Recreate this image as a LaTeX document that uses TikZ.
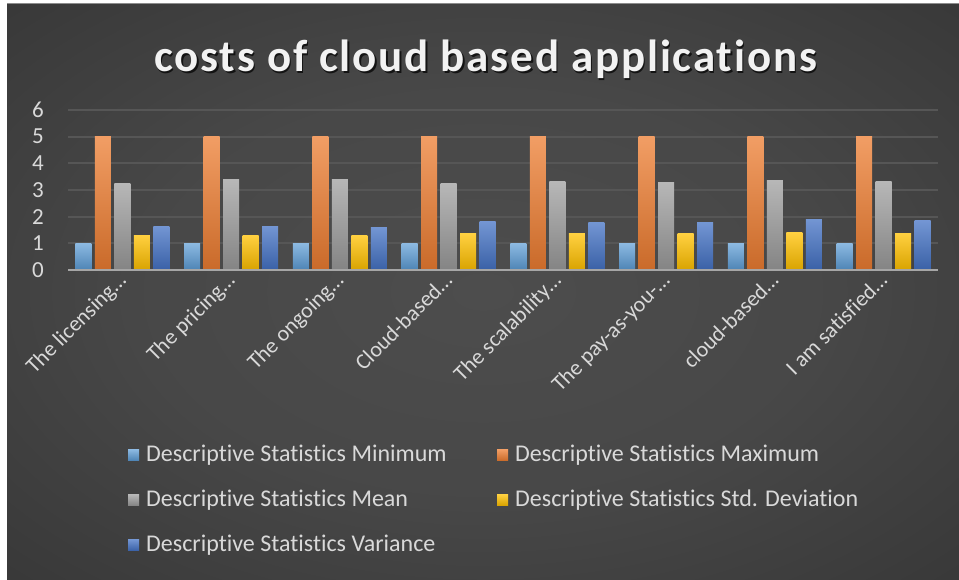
\documentclass[tikz,border=0pt]{standalone}
\usepackage{fontspec}
\setmainfont{Carlito}[Ligatures=NoCommon]
\newfontfamily\titlefont[LetterSpace=4,Ligatures=NoCommon]{Carlito}

\definecolor{bgmid}{HTML}{4D4D4D}
\definecolor{bgdark}{HTML}{282828}
\definecolor{gridgrey}{HTML}{565656}
\definecolor{axisgrey}{HTML}{A6A6A6}
\definecolor{labelgrey}{HTML}{D9D9D9}
\definecolor{minblue}{HTML}{5B9BD5}
\definecolor{maxorange}{HTML}{ED7D31}
\definecolor{meangrey}{HTML}{A5A5A5}
\definecolor{sdyellow}{HTML}{FFC000}
\definecolor{varblue}{HTML}{4472C4}

\pgfdeclareradialshading{chartbg}{\pgfpoint{0bp}{0bp}}{color(0bp)=(bgmid); color(18bp)=(bgmid!85!bgdark); color(55bp)=(bgdark); color(75bp)=(bgdark)}

\tikzset{
  ticklabel/.style={text=labelgrey, font=\fontsize{23}{23}\selectfont, anchor=east, inner sep=0pt},
  catlabel/.style={text=labelgrey, font=\fontsize{22}{22}\selectfont, rotate=45, anchor=base east, inner sep=0pt},
  legendtext/.style={text=labelgrey, font=\fontsize{24}{24}\selectfont, anchor=west, inner sep=0pt},
  minbar/.style={top color=minblue!70!white, bottom color=minblue!85!black},
  maxbar/.style={top color=maxorange!75!white, bottom color=maxorange!85!black},
  meanbar/.style={top color=meangrey!80!white, bottom color=meangrey!80!black},
  sdbar/.style={top color=sdyellow!75!white, bottom color=sdyellow!85!black},
  varbar/.style={top color=varblue!75!white, bottom color=varblue!85!black},
}

% one bar: slot (0..4), value, style
\newcommand{\chartbar}[3]{%
  \shade[#3] ({\gx+(#1-2)*19.5-8},0) rectangle ({\gx+(#1-2)*19.5+8},#2);%
}

\begin{document}
\begin{tikzpicture}[x=1pt,y=1pt]
\useasboundingbox (0,0) rectangle (959,579);

% Page and chart area
\fill[white] (0,0) rectangle (959,579);
\shade[shading=chartbg] (7,0) rectangle (959,575);
\draw[line width=1pt, black!45] (7,575) -- (959,575);

% Title
\node[text=black, opacity=0.7, font=\titlefont\bfseries\fontsize{45}{45}\selectfont, anchor=base] (title-shadow) at (487,505.5) {costs of cloud based applications};
\node[text=white!95!black, font=\titlefont\bfseries\fontsize{45}{45}\selectfont, anchor=base] (title) at (485.5,507) {costs of cloud based applications};

\begin{scope}[shift={(68,309)}, y=26.667pt]

  % Gridlines and value labels
  \foreach \v in {1,...,6}
    \draw[line width=1.8pt, gridgrey] (0,\v) -- (870,\v);
  \foreach \v in {0,...,6}
    \node[ticklabel] (tick-\v) at (-24,\v) {\v};

  % Bars
  \foreach \mean/\sd/\var/\lab [count=\i from 0] in {
      3.25/1.30/1.64/{The licensing…},
      3.38/1.30/1.64/{The pricing…},
      3.41/1.28/1.59/{The ongoing…},
      3.24/1.35/1.80/{Cloud-based…},
      3.31/1.35/1.78/{The scalability…},
      3.29/1.35/1.78/{The pay-as-you-…},
      3.36/1.39/1.90/{cloud-based…},
      3.31/1.37/1.84/{I am satisfied…}} {
    \pgfmathsetmacro{\gx}{108.75*(\i+0.5)}
    \chartbar{0}{1}{minbar}
    \chartbar{1}{5}{maxbar}
    \chartbar{2}{\mean}{meanbar}
    \chartbar{3}{\sd}{sdbar}
    \chartbar{4}{\var}{varbar}
    \node[catlabel] (cat-\i) at ({\gx+5},-0.45) {\lab};
  }

  % Category axis
  \draw[line width=2.4pt, axisgrey] (0,0) -- (870,0);
\end{scope}

% Legend
\foreach \name/\sty/\lx/\ly [count=\j] in {
    Minimum/minbar/128/124,
    Maximum/maxbar/497/124,
    Mean/meanbar/128/79,
    Std. Deviation/sdbar/497/79,
    Variance/varbar/128/34} {
  \shade[\sty] (\lx,\ly-5.5) rectangle (\lx+11,\ly+5.5);
  \node[legendtext] (legend-\j) at (\lx+18,\ly) {Descriptive Statistics \name};
}
\end{tikzpicture}
\end{document}
